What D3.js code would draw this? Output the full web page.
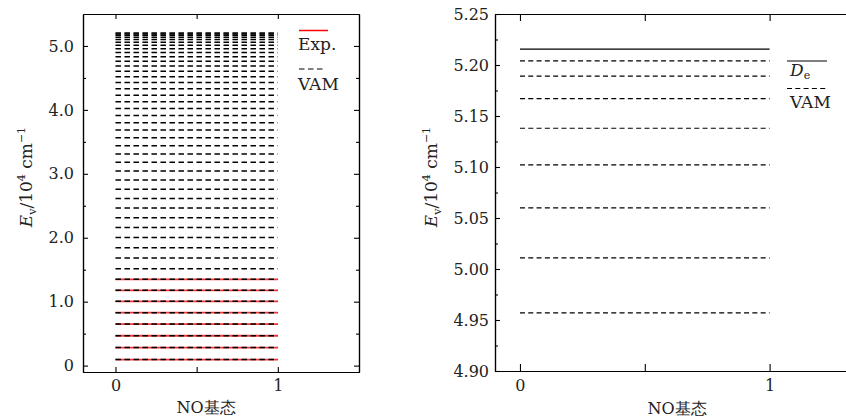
<!DOCTYPE html>
<html>
<head>
<meta charset="utf-8">
<script src="https://cdn.jsdelivr.net/npm/d3@7/dist/d3.min.js"></script>
<style>
  body { margin: 0; background: #fff; }
  svg { display: block; }
</style>
</head>
<body>
<svg id="chart"></svg>
<script>
// vibrational levels of NO ground state, units 10^4 cm^-1
const vamLevels = [0.095, 0.282, 0.467, 0.649, 0.828, 1.005, 1.178, 1.349, 1.517, 1.682,
                   1.844, 2.003, 2.160, 2.314, 2.466, 2.614, 2.760, 2.903, 3.043, 3.180,
                   3.312, 3.440, 3.565, 3.685, 3.800, 3.914, 4.022, 4.127, 4.231, 4.330,
                   4.427, 4.518, 4.604, 4.685, 4.761, 4.832, 4.897, 4.957, 5.011, 5.060,
                   5.102, 5.138, 5.167, 5.189, 5.204];
const expLevels = [0.095, 0.282, 0.467, 0.649, 0.828, 1.005, 1.178, 1.349];
const deLevel = 5.2156;

const leftYTicks = [0, 1, 2, 3, 4, 5];
const leftYMinor = [0.5, 1.5, 2.5, 3.5, 4.5];
const rightYTicks = [4.90, 4.95, 5.00, 5.05, 5.10, 5.15, 5.20, 5.25];
const rightYMinor = [4.925, 4.975, 5.025, 5.075, 5.125, 5.175, 5.225];
const xTicks = [0, 1];
const xMinor = [0.5];
const xLabel = "NO基态";

const width = 846;
const height = 420;
const serif = "'DejaVu Serif', serif";

const svg = d3.select("#chart")
              .attr("width", width)
              .attr("height", height)
              .style("font-family", serif);

// ---------- shared helpers ----------
function frameAxis(g, axis, transform, showLabels) {
  const a = g.append("g")
             .attr("transform", transform)
             .style("font-family", serif)
             .style("font-size", "16px")
             .call(axis);
  a.select(".domain").attr("stroke", "#000").attr("stroke-width", 1.2);
  a.selectAll(".tick line").attr("stroke", "#000").attr("stroke-width", 1.1);
  a.selectAll(".tick text").attr("fill", "#222");
  if (!showLabels) a.selectAll(".tick text").remove();
  return a;
}

function yLabel(x, y) {
  const t = svg.append("text")
               .attr("transform", "translate(" + x + "," + y + ") rotate(-90)")
               .attr("text-anchor", "middle")
               .style("font-size", "17px")
               .attr("fill", "#222");
  t.append("tspan").style("font-style", "italic").text("E");
  t.append("tspan").attr("dy", 4).style("font-size", "11px").text("v");
  t.append("tspan").attr("dy", -4).text("/10");
  t.append("tspan").attr("dy", -7).style("font-size", "11px").text("4");
  t.append("tspan").attr("dy", 7).text(" cm");
  t.append("tspan").attr("dy", -7).style("font-size", "11px").text("−1");
}

function drawPanel(p) {
  const x = d3.scaleLinear().domain(p.xDomain).range([p.left, p.right]);
  const y = d3.scaleLinear().domain(p.yDomain).range([p.bottom, p.top]);

  // major / minor ticks, all pointing inward
  frameAxis(svg, d3.axisLeft(y).tickValues(p.yTicks).tickFormat(p.yFormat)
                  .tickSize(-5).tickSizeOuter(0).tickPadding(p.yPad),
            "translate(" + p.left + ",0)", true);
  frameAxis(svg, d3.axisLeft(y).tickValues(p.yMinor).tickSize(-3).tickSizeOuter(0),
            "translate(" + p.left + ",0)", false);
  frameAxis(svg, d3.axisBottom(x).tickValues(xTicks).tickFormat(d3.format("d"))
                  .tickSize(-p.xTickLen).tickSizeOuter(0).tickPadding(p.xPad),
            "translate(0," + p.bottom + ")", true);
  frameAxis(svg, d3.axisBottom(x).tickValues(xMinor).tickSize(-p.xTickLen).tickSizeOuter(0),
            "translate(0," + p.bottom + ")", false);
  frameAxis(svg, d3.axisTop(x).tickValues(xTicks.concat(xMinor)).tickSize(-p.xTickLen).tickSizeOuter(0),
            "translate(0," + p.top + ")", false);
  if (p.mirrorY) {
    frameAxis(svg, d3.axisRight(y).tickValues(p.yTicks).tickSize(-5).tickSizeOuter(0),
              "translate(" + p.right + ",0)", false);
    frameAxis(svg, d3.axisRight(y).tickValues(p.yMinor).tickSize(-3).tickSizeOuter(0),
              "translate(" + p.right + ",0)", false);
  }

  svg.append("text")
     .attr("x", p.xLabelX)
     .attr("y", p.xLabelY)
     .attr("text-anchor", "middle")
     .style("font-size", "16px")
     .attr("fill", "#222")
     .text(xLabel);

  yLabel(p.yLabelX, p.yLabelY);
  return {x, y};
}

// ---------- left panel ----------
const L = drawPanel({
  left: 83, right: 359, top: 14, bottom: 372,
  xDomain: [-0.2, 1.5], yDomain: [-0.1, 5.5],
  yTicks: leftYTicks, yMinor: leftYMinor,
  yFormat: d => d === 0 ? "0" : d3.format(".1f")(d),
  yPad: 9, xPad: 8, xTickLen: 5, mirrorY: true,
  xLabelX: 206, xLabelY: 413, yLabelX: 32, yLabelY: 177
});

svg.append("g")
   .selectAll("line")
   .data(expLevels)
   .enter()
   .append("line")
   .attr("x1", L.x(0)).attr("x2", L.x(1))
   .attr("y1", d => L.y(d)).attr("y2", d => L.y(d))
   .attr("stroke", "#f23a3a")
   .attr("stroke-width", 1.8);

svg.append("g")
   .selectAll("line")
   .data(vamLevels)
   .enter()
   .append("line")
   .attr("x1", L.x(0)).attr("x2", L.x(1))
   .attr("y1", d => L.y(d)).attr("y2", d => L.y(d))
   .attr("stroke", "#000")
   .attr("stroke-width", 1.5)
   .attr("stroke-dasharray", "5.5,3.5");

// left legend
svg.append("line").attr("x1", 299).attr("x2", 328).attr("y1", 30.5).attr("y2", 30.5)
   .attr("stroke", "#ff0000").attr("stroke-width", 1.5);
svg.append("text").attr("x", 298).attr("y", 50).style("font-size", "17px").attr("fill", "#222").text("Exp.");
svg.append("line").attr("x1", 299).attr("x2", 325).attr("y1", 69).attr("y2", 69)
   .attr("stroke", "#000").attr("stroke-width", 1.2).attr("stroke-dasharray", "5.5,3.5");
svg.append("text").attr("x", 298).attr("y", 90).style("font-size", "17px").attr("fill", "#222").text("VAM");

// ---------- right panel ----------
const R = drawPanel({
  left: 495, right: 847, top: 14, bottom: 371,
  xDomain: [-0.1, 1.31], yDomain: [4.90, 5.25],
  yTicks: rightYTicks, yMinor: rightYMinor,
  yFormat: d3.format(".2f"),
  yPad: 6, xPad: 9, xTickLen: 7, mirrorY: false,
  xLabelX: 677, xLabelY: 414, yLabelX: 437, yLabelY: 177
});

svg.append("line")
   .datum(deLevel)
   .attr("x1", R.x(0)).attr("x2", R.x(1))
   .attr("y1", d => R.y(d)).attr("y2", d => R.y(d))
   .attr("stroke", "#000")
   .attr("stroke-width", 1.2);

svg.append("g")
   .selectAll("line")
   .data(vamLevels.filter(d => d >= 4.90))
   .enter()
   .append("line")
   .attr("x1", R.x(0)).attr("x2", R.x(1))
   .attr("y1", d => R.y(d)).attr("y2", d => R.y(d))
   .attr("stroke", "#000")
   .attr("stroke-width", 1.2)
   .attr("stroke-dasharray", "5,3.3");

// right legend
svg.append("line").attr("x1", 787).attr("x2", 827).attr("y1", 61).attr("y2", 61)
   .attr("stroke", "#000").attr("stroke-width", 1.2);
const de = svg.append("text").attr("x", 790).attr("y", 76).style("font-size", "17px").attr("fill", "#222");
de.append("tspan").style("font-style", "italic").text("D");
de.append("tspan").attr("dy", 3).style("font-size", "11px").text("e");
svg.append("line").attr("x1", 787).attr("x2", 827).attr("y1", 88.5).attr("y2", 88.5)
   .attr("stroke", "#000").attr("stroke-width", 1.2).attr("stroke-dasharray", "5,3.3");
svg.append("text").attr("x", 790).attr("y", 108).style("font-size", "17px").attr("fill", "#222").text("VAM");
</script>
</body>
</html>
